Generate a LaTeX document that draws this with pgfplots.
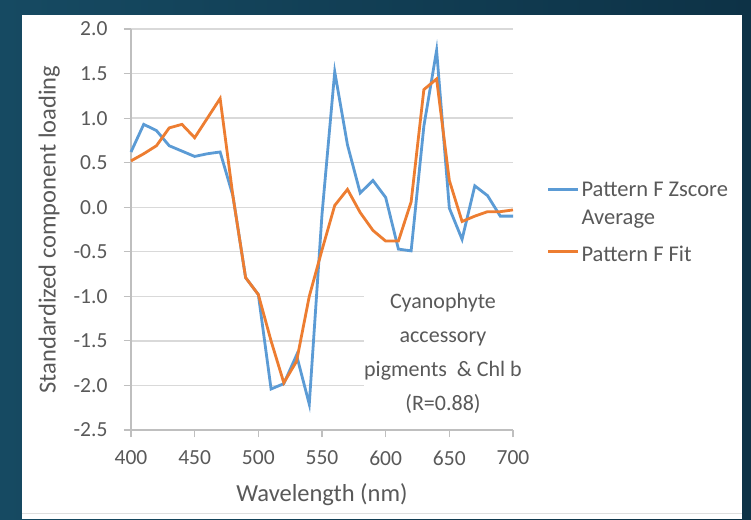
\documentclass[border=0pt]{standalone}
\usepackage{pgfplots}
\pgfplotsset{compat=1.18}
\usepackage{fontspec}
\setmainfont{Carlito}
\definecolor{bgL}{RGB}{22,74,98}
\definecolor{bgR}{RGB}{13,50,70}
\definecolor{txt}{HTML}{595959}
\definecolor{sblue}{HTML}{5B9BD5}
\definecolor{sorange}{HTML}{ED7D31}
\definecolor{gridc}{HTML}{D9D9D9}
\definecolor{axc}{HTML}{BFBFBF}
\begin{document}
\begin{tikzpicture}[x=1pt,y=1pt]
\shade[left color=bgL, right color=bgR] (0,0) rectangle (751,519);
\fill[white] (22,0) rectangle (742,504);
\draw[gray!25, line width=1pt] (22,6) -- (742,6);
\begin{axis}[
  at={(131pt,89pt)}, anchor=south west,
  scale only axis, width=382pt, height=401pt,
  xmin=400, xmax=700, ymin=-2.5, ymax=2,
  xtick={400,450,...,700},
  ytick={-2.5,-2,...,2},
  axis lines*=left,
  axis line style={-, draw=axc, line width=1.2pt},
  ymajorgrids, grid style={draw=gridc, line width=1.3pt},
  tick align=outside, major tick length=7pt,
  tick style={draw=axc, line width=1.2pt},
  /pgf/number format/assume math mode=true,
  yticklabel style={/pgf/number format/fixed, /pgf/number format/fixed zerofill, /pgf/number format/precision=1, xshift=-13pt},
  ticklabel style={font=\fontsize{21.5}{24}\selectfont, text=txt},
  xticklabel style={yshift=-10pt},
  xlabel={Wavelength (nm)},
  ylabel={Standardized component loading},
  label style={font=\fontsize{24.5}{28}\selectfont, text=txt},
  xlabel style={yshift=-12pt},
  ylabel style={yshift=7pt},
  legend style={at={(1.08,0.63)}, anchor=north west, draw=none, fill=none,
    font=\fontsize{22.5}{27}\selectfont, text=txt, row sep=9pt,
    nodes={inner sep=2pt}, cells={anchor=west}},
  legend image code/.code={\draw[#1, line width=2.8pt] (0pt,0pt) -- (30pt,0pt);},
  clip=false,
]
\addplot[sblue, line width=2.8pt] coordinates {
(400,0.62) (410,0.93) (420,0.86) (430,0.69) (440,0.63) (450,0.57) (460,0.60) (470,0.62)
(480,0.13) (490,-0.79) (500,-0.98) (510,-2.04) (520,-1.98) (530,-1.66) (540,-2.21)
(550,-0.08) (560,1.52) (570,0.70) (580,0.16) (590,0.30) (600,0.11) (610,-0.47)
(620,-0.49) (630,0.91) (640,1.76) (650,-0.01) (660,-0.36) (670,0.24) (680,0.13)
(690,-0.10) (700,-0.10)};
\addlegendentry{Pattern F Zscore}
\addlegendimage{empty legend}
\addlegendentry{Average}
\addplot[sorange, line width=2.8pt] coordinates {
(400,0.52) (410,0.60) (420,0.69) (430,0.89) (440,0.93) (450,0.78) (460,1.00) (470,1.22)
(480,0.13) (490,-0.79) (500,-0.98) (510,-1.50) (520,-1.97) (530,-1.73) (540,-1.00)
(550,-0.48) (560,0.02) (570,0.20) (580,-0.06) (590,-0.26) (600,-0.38) (610,-0.38)
(620,0.06) (630,1.32) (640,1.44) (650,0.30) (660,-0.16) (670,-0.10) (680,-0.05)
(690,-0.05) (700,-0.03)};
\addlegendentry{\raisebox{0pt}[22pt][7pt]{Pattern F Fit}}
\node[fill=white, align=center, text=txt, font=\fontsize{22}{34}\selectfont,
  inner sep=0pt, minimum width=148pt, minimum height=150pt] at (axis cs:645,-1.64)
  {Cyanophyte\\accessory\\pigments\ \ \& Chl b\\(R=0.88)};
\end{axis}
\end{tikzpicture}
\end{document}
